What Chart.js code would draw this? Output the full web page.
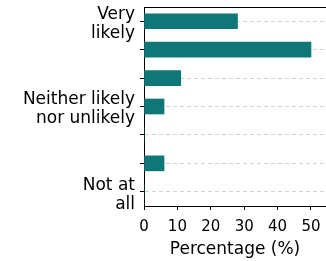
<!DOCTYPE html>
<html>
<head>
<meta charset="utf-8">
<script src="https://cdn.jsdelivr.net/npm/chart.js@4.4.1/dist/chart.umd.min.js"></script>
<style>
  html, body { margin: 0; padding: 0; background: #fff; }
  #wrap { width: 326px; height: 261px; }
</style>
</head>
<body>
<div id="wrap"><canvas id="chart"></canvas></div>
<script>
// likert rows, top to bottom
const categories = [['Very', 'likely'], '', '', ['Neither likely', 'nor unlikely'], '', '', ['Not at', 'all']];
const percentages = [28, 50, 11, 6, 0, 6, 0];
const xTicks = [0, 10, 20, 30, 40, 50];
const xMax = 54.5;

const barColor = '#0f7777';

Chart.defaults.font.family = 'DejaVu Sans';
Chart.defaults.color = '#000';

new Chart(document.getElementById('chart'), {
  type: 'bar',
  data: {
    labels: categories,
    datasets: [{
      data: percentages,
      backgroundColor: barColor,
      barThickness: 15
    }]
  },
  options: {
    indexAxis: 'y',
    responsive: true,
    maintainAspectRatio: false,
    animation: false,
    layout: { padding: { top: 7, right: 0, bottom: 0, left: 0 } },
    plugins: {
      legend: { display: false },
      tooltip: { enabled: false }
    },
    scales: {
      y: {
        z: 1,
        offset: true,
        grid: {
          offset: false,
          color: 'rgba(200,200,200,0.8)',
          lineWidth: 1,
          drawTicks: true,
          tickColor: '#000',
          tickLength: 4
        },
        border: { display: true, color: '#000', width: 1, dash: [4, 3] },
        ticks: {
          padding: 5,
          labelOffset: 3,
          autoSkip: false,
          font: { size: 17, lineHeight: 1.12 }
        },
        afterFit: s => {
          s.width = 144;
          s.paddingTop = 0;
          s.paddingBottom = 0;
        }
      },
      x: {
        min: 0,
        max: xMax,
        afterBuildTicks: s => { s.ticks = xTicks.map(v => ({ value: v })); },
        grid: {
          drawOnChartArea: false,
          drawTicks: true,
          tickColor: '#000',
          tickLength: 4
        },
        border: { display: true, color: '#000', width: 1 },
        ticks: { padding: 8, font: { size: 15 } },
        title: {
          display: true,
          text: 'Percentage (%)',
          font: { size: 17 },
          padding: { top: 2, bottom: 1 }
        },
        afterFit: s => {
          s.height = 55;
          s.paddingLeft = 0;
          s.paddingRight = 0;
        }
      },
      x2: {
        position: 'top',
        min: 0,
        max: xMax,
        grid: { display: false, drawTicks: false },
        ticks: { display: false },
        border: { display: true, color: '#000', width: 1 },
        afterFit: s => {
          s.height = 0;
          s.paddingLeft = 0;
          s.paddingRight = 0;
        }
      }
    }
  }
});
</script>
</body>
</html>
